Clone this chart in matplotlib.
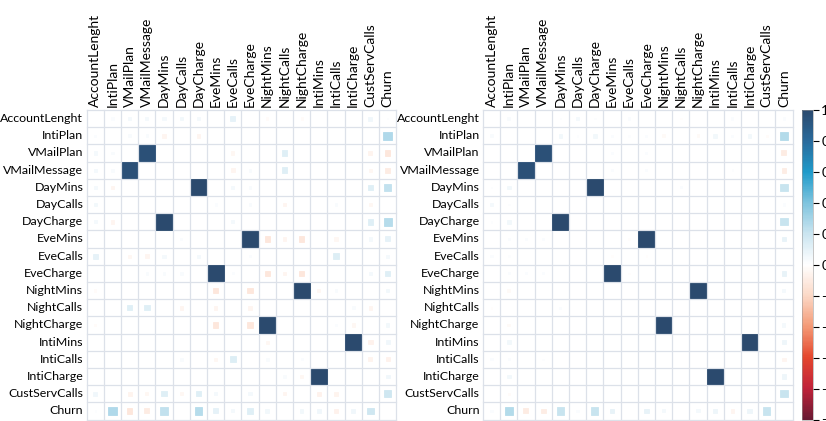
import numpy as np
import matplotlib
matplotlib.use("Agg")
import matplotlib.pyplot as plt
from matplotlib.colors import LinearSegmentedColormap, Normalize
from matplotlib.cm import ScalarMappable
from matplotlib.patches import Rectangle

plt.rcParams['font.family'] = ['Lato', 'DejaVu Sans']

variables = ["AccountLenght", "IntiPlan", "VMailPlan", "VMailMessage", "DayMins",
             "DayCalls", "DayCharge", "EveMins", "EveCalls", "EveCharge",
             "NightMins", "NightCalls", "NightCharge", "IntiMins", "IntiCalls",
             "IntiCharge", "CustServCalls", "Churn"]

# Pairwise correlations (upper triangle, diagonal left blank) for each panel
left_pairs = [
    (0, 1, 0.02), (0, 2, 0.04), (0, 3, 0.04), (0, 4, 0.04), (0, 5, 0.05),
    (0, 6, 0.04), (0, 8, 0.10), (0, 10, -0.02), (0, 12, -0.02), (0, 16, 0.06),
    (0, 17, 0.01),
    (1, 2, 0.03), (1, 3, 0.03), (1, 4, -0.05), (1, 6, -0.05), (1, 17, 0.27),
    (2, 3, 0.96), (2, 8, -0.04), (2, 11, 0.12), (2, 16, -0.06), (2, 17, -0.12),
    (3, 8, -0.05), (3, 9, 0.03), (3, 11, 0.12), (3, 16, -0.04), (3, 17, -0.10),
    (4, 6, 1.00), (4, 8, 0.04), (4, 9, 0.03), (4, 16, 0.12), (4, 17, 0.22),
    (5, 7, 0.02), (5, 9, 0.03), (5, 11, -0.05), (5, 14, 0.03), (5, 16, -0.04),
    (6, 8, 0.04), (6, 16, 0.12), (6, 17, 0.25),
    (7, 9, 1.00), (7, 10, -0.12), (7, 11, -0.05), (7, 12, -0.12), (7, 14, -0.04),
    (7, 16, 0.04), (7, 17, 0.10),
    (8, 9, 0.02), (8, 14, 0.13), (8, 17, 0.04),
    (9, 10, -0.12), (9, 11, -0.05), (9, 12, -0.12), (9, 16, 0.04), (9, 17, 0.12),
    (10, 12, 1.00), (10, 13, -0.04), (10, 14, 0.03), (10, 17, 0.05),
    (11, 15, 0.03), (11, 16, -0.05),
    (12, 14, 0.02), (12, 15, -0.04), (12, 17, 0.05),
    (13, 15, 1.00), (13, 16, -0.07), (13, 17, 0.06),
    (14, 16, -0.06), (14, 17, -0.07),
    (15, 17, 0.06),
    (16, 17, 0.18),
]

right_pairs = [
    (0, 1, 0.03), (0, 4, 0.01), (0, 5, 0.04), (0, 6, 0.01), (0, 8, 0.02),
    (0, 11, -0.01), (0, 14, 0.02), (0, 17, 0.02),
    (1, 4, 0.05), (1, 5, 0.01), (1, 6, 0.05), (1, 7, 0.02), (1, 8, 0.01),
    (1, 9, 0.02), (1, 10, -0.03), (1, 12, -0.03), (1, 13, 0.05), (1, 14, 0.02),
    (1, 15, 0.05), (1, 16, -0.02), (1, 17, 0.26),
    (2, 3, 0.96), (2, 7, 0.02), (2, 9, 0.02), (2, 17, -0.10),
    (3, 7, 0.02), (3, 9, 0.02), (3, 14, 0.01), (3, 17, -0.09),
    (4, 6, 1.00), (4, 11, 0.02), (4, 17, 0.21),
    (5, 17, 0.02),
    (6, 17, 0.21),
    (7, 8, -0.01), (7, 9, 1.00), (7, 17, 0.09),
    (8, 9, -0.01),
    (9, 17, 0.09),
    (10, 12, 1.00), (10, 17, 0.04),
    (12, 17, 0.04),
    (13, 15, 1.00), (13, 17, 0.07),
    (14, 17, -0.05),
    (15, 17, 0.07),
    (16, 17, 0.21),
]

colorbar_ticks = [1, 0.8, 0.6, 0.4, 0.2, 0, -0.2, -0.4, -0.6, -0.8, -1]

cmap = LinearSegmentedColormap.from_list("corr", [
    (0.00, "#6a1a33"), (0.10, "#c0223a"), (0.20, "#e4472e"), (0.30, "#f49a76"),
    (0.40, "#fbd8c6"), (0.50, "#ffffff"), (0.60, "#cbe5f0"), (0.70, "#7fc4de"),
    (0.80, "#1f9bca"), (0.90, "#2a6b9c"), (1.00, "#2b4a6e"),
])
norm = Normalize(-1, 1)


def build_matrix(pairs, n):
    m = np.zeros((n, n))
    for i, j, v in pairs:
        m[i, j] = v
        m[j, i] = v
    return m


W, H = 826, 421
fig = plt.figure(figsize=(W / 100, H / 100), dpi=100)

grid_top, grid_bottom = 110, 419.5
grid_w = grid_bottom - grid_top
n = len(variables)


def draw_panel(x_left, matrix):
    ax = fig.add_axes([x_left / W, (H - grid_bottom) / H, grid_w / W, grid_w / H])
    ax.set_xlim(0, n)
    ax.set_ylim(n, 0)
    ax.set_axis_off()
    for k in range(n + 1):
        ax.plot([k, k], [0, n], color="#dce1e9", lw=0.9, zorder=1, clip_on=False)
        ax.plot([0, n], [k, k], color="#dce1e9", lw=0.9, zorder=1, clip_on=False)
    for i in range(n):
        for j in range(n):
            v = matrix[i, j]
            if v == 0:
                continue
            s = 0.92 * np.sqrt(abs(v))
            c = cmap(norm(v))
            ax.add_patch(Rectangle((j + 0.5 - s / 2, i + 0.5 - s / 2), s, s,
                                   facecolor=c, edgecolor=c, lw=0.6, zorder=2))
    for k, name in enumerate(variables):
        ax.text(-0.2, k + 0.5, name, ha="right", va="center", fontsize=8.9,
                color="black")
        ax.text(k + 0.5, -0.18, name, ha="center", va="bottom", rotation=90,
                fontsize=10.0, color="black")
    return ax


draw_panel(86.7, build_matrix(left_pairs, n))
draw_panel(483, build_matrix(right_pairs, n))

cax = fig.add_axes([802 / W, (H - grid_bottom) / H, 11 / W, grid_w / H])
cb = fig.colorbar(ScalarMappable(norm=norm, cmap=cmap), cax=cax, ticks=colorbar_ticks)
cb.ax.set_yticklabels([f"{t:g}" for t in colorbar_ticks])
cb.ax.tick_params(length=4, width=0.8, labelsize=10, pad=2)
cb.outline.set_linewidth(0.4)
cb.outline.set_edgecolor("#999999")

fig.savefig("out.png", dpi=100)
